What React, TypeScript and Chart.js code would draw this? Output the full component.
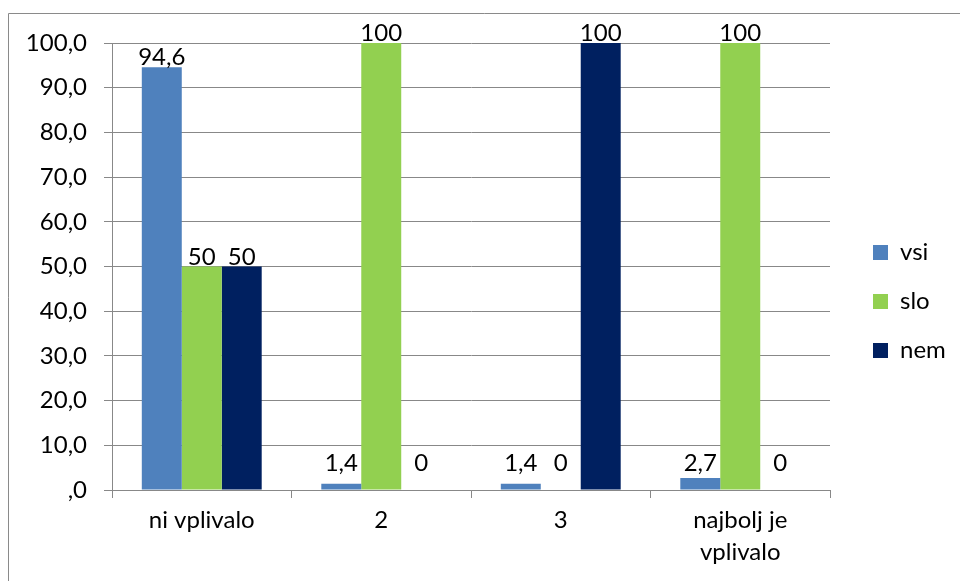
import React, { useEffect, useRef } from "react";
import { Chart, registerables } from "chart.js";

Chart.register(...registerables);

const categories: (string | string[])[] = ["ni vplivalo", "2", "3", ["najbolj je", "vplivalo"]];
const seriesNames = ["vsi", "slo", "nem"];
const vsiValues = [94.6, 1.4, 1.4, 2.7];
const sloValues = [50, 100, 0, 100];
const nemValues = [50, 0, 100, 0];
const seriesColors = ["#4F81BD", "#92D050", "#002060"];
const yMin = 0;
const yMax = 100;
const yStep = 10;

const FONT = "Lato, 'Open Sans', sans-serif";
const FS = 24;
const GRID = "#888888";

const fmt = (v: number) => String(v).replace(".", ",");

const framePlugin = {
  id: "frame",
  beforeDraw(chart: any) {
    const ctx = chart.ctx;
    ctx.save();
    ctx.strokeStyle = "#8a8a8a";
    ctx.lineWidth = 1;
    ctx.beginPath();
    ctx.moveTo(8.5, 600);
    ctx.lineTo(8.5, 13.5);
    ctx.lineTo(960, 13.5);
    ctx.stroke();
    ctx.restore();
  },
};

const labelPlugin = {
  id: "barLabels",
  afterDatasetsDraw(chart: any) {
    const ctx = chart.ctx;
    const zeroY = chart.scales.y.getPixelForValue(0);
    ctx.save();
    ctx.font = `${FS}px ${FONT}`;
    ctx.fillStyle = "#000";
    ctx.textAlign = "center";
    ctx.textBaseline = "alphabetic";
    chart.data.datasets.forEach((ds: any, di: number) => {
      const meta = chart.getDatasetMeta(di);
      meta.data.forEach((el: any, i: number) => {
        const v = ds.data[i];
        const y = Math.min(el.y - 2, zeroY - 19);
        ctx.fillText(fmt(v), el.x, y);
      });
    });
    ctx.restore();
  },
};

export default function App() {
  const ref = useRef<HTMLCanvasElement | null>(null);
  useEffect(() => {
    if (!ref.current) return;
    const mctx = ref.current.getContext("2d") as CanvasRenderingContext2D;
    mctx.font = `${FS}px ${FONT}`;
    const textW = Math.max(...seriesNames.map((n) => mctx.measureText(n).width));
    const legendPad = 25;
    const boxW = 15;
    const legendWidth = legendPad + boxW + FS / 2 + textW + 10;
    const legendLeft = 873 - legendPad;
    const padRight = Math.max(0, 960 - legendLeft - legendWidth);
    const padTop = 43;
    const titleFont = 10;
    const firstItemTop = 240.5;
    const titlePadTop = firstItemTop - padTop - legendPad - titleFont;
    const seriesData = [vsiValues, sloValues, nemValues];
    const chart = new Chart(ref.current, {
      type: "bar",
      data: {
        labels: categories as any,
        datasets: seriesNames.map((name, i) => ({
          label: name,
          data: seriesData[i],
          backgroundColor: seriesColors[i],
          borderWidth: 0,
          barPercentage: 1,
          categoryPercentage: 0.668,
          yAxisID: "y",
        })),
      },
      options: {
        animation: false,
        responsive: false,
        maintainAspectRatio: false,
        layout: { padding: { top: padTop, bottom: 0, left: 0, right: padRight } },
        plugins: {
          legend: {
            position: "right",
            align: "start",
            title: {
              display: true,
              text: " ",
              font: { size: titleFont, lineHeight: 1 },
              padding: { top: titlePadTop, bottom: 0 },
            },
            labels: {
              boxWidth: boxW,
              boxHeight: 15,
              padding: legendPad,
              color: "#000",
              font: { family: FONT, size: FS },
            },
          },
          tooltip: { enabled: false },
        },
        scales: {
          x: {
            grid: {
              offset: true,
              drawOnChartArea: false,
              drawTicks: true,
              tickLength: 8,
              color: GRID,
            },
            border: { color: GRID },
            ticks: {
              color: "#000",
              font: { family: FONT, size: FS, lineHeight: 1.3 },
              padding: 7,
              maxRotation: 0,
              autoSkip: false,
            },
            afterFit: (s: any) => {
              s.height = 91;
            },
          },
          y: {
            min: yMin,
            max: yMax,
            grid: { color: GRID, tickLength: 8 },
            border: { color: GRID },
            ticks: {
              stepSize: yStep,
              color: "#000",
              font: { family: FONT, size: FS },
              padding: 17,
              callback: (v: any) => (Number(v) === 0 ? ",0" : Number(v).toFixed(1).replace(".", ",")),
            },
            afterFit: (s: any) => {
              s.width = 112;
            },
          },
          spacer: {
            type: "linear",
            position: "right",
            display: true,
            grid: { display: false, drawTicks: false },
            border: { display: false },
            ticks: { display: false },
            afterFit: (s: any) => {
              s.width = legendLeft - 830;
            },
          },
        },
      } as any,
      plugins: [framePlugin, labelPlugin],
    });
    return () => chart.destroy();
  }, []);
  return (
    <div style={{ position: "fixed", left: 0, top: 0, width: 960, height: 581, background: "#fff" }}>
      <canvas ref={ref} width={960} height={581} style={{ display: "block" }} />
    </div>
  );
}
